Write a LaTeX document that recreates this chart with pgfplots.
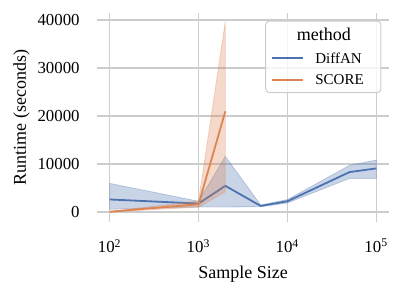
\documentclass[border=0pt]{standalone}
\usepackage{fontspec}
\setmainfont{Liberation Serif}
\usepackage{pgfplots}
\pgfplotsset{compat=1.18}
\definecolor{c1}{HTML}{4C72B0}
\definecolor{c2}{HTML}{DD8452}
\definecolor{gridc}{HTML}{CCCCCC}
\begin{document}
\begin{tikzpicture}
\begin{axis}[
  scale only axis, width=146.3pt, height=104.2pt,
  xmode=log, xmin=71.4, xmax=140000, ymin=-2020, ymax=41400,
  axis line style={draw=none}, major tick length=0, minor tick length=0,
  xtick={100,1000,10000,100000},
  xticklabels={10\textsuperscript{2},10\textsuperscript{3},10\textsuperscript{4},10\textsuperscript{5}},
  ytick={0,10000,20000,30000,40000},
  yticklabels={0,10000,20000,30000,40000},
  scaled y ticks=false,
  grid=major, grid style={gridc, line width=0.6pt},
  tick label style={font=\fontsize{8.4}{10}\selectfont},
  xticklabel style={anchor=north, inner sep=0pt, yshift=-8.6pt},
  yticklabel style={anchor=east, inner sep=0pt, xshift=-8.35pt},
  xlabel={Sample Size}, ylabel={Runtime (seconds)},
  label style={font=\fontsize{9}{11}\selectfont},
  xlabel style={at={(axis description cs:0.5,0)}, anchor=north, inner sep=0pt, yshift=-22pt},
  ylabel style={at={(axis description cs:-0.257,0.5)}, anchor=center, inner sep=0pt},
]
\addplot[c1, line width=0.9pt] coordinates {
  (100,2610) (1000,1760) (2000,5450) (5000,1260) (10000,2240) (50000,8320) (100000,9080)};
\addplot[fill=c1, fill opacity=0.3, draw=c1, draw opacity=0.3, line width=0.4pt] coordinates {
  (100,5960) (1000,2240) (2000,11590) (5000,1470) (10000,2590) (50000,9710) (100000,10830)
  (100000,7000) (50000,7000) (10000,1880) (5000,1100) (2000,1050) (1000,1050) (100,570)} -- cycle;

\addplot[c2, line width=0.9pt] coordinates {
  (100,50) (1000,1610) (2000,20980)};
\addplot[fill=c2, fill opacity=0.3, draw=c2, draw opacity=0.3, line width=0.4pt] coordinates {
  (100,120) (1000,2300) (2000,39690) (2000,4200) (1000,1000) (100,20)} -- cycle;

% legend
\draw[gridc, line width=0.5pt, fill=white, fill opacity=0.8, rounded corners=2pt]
  (axis description cs:0.5776,0.619) rectangle (axis description cs:0.9716,0.963);
\node[anchor=center, inner sep=0pt, font=\fontsize{9}{11}\selectfont]
  at (axis description cs:0.7768,0.8992) {method};
\draw[c1, line width=0.9pt] (axis description cs:0.598,0.7841) -- (axis description cs:0.706,0.7841);
\node[anchor=west, inner sep=0pt, font=\fontsize{7.5}{9}\selectfont]
  at (axis description cs:0.7460,0.7841) {DiffAN};
\draw[c2, line width=0.9pt] (axis description cs:0.598,0.680) -- (axis description cs:0.706,0.680);
\node[anchor=west, inner sep=0pt, font=\fontsize{7.5}{9}\selectfont]
  at (axis description cs:0.7460,0.680) {SCORE};
\end{axis}
\path ([shift={(-48.35pt,-37.65pt)}]current axis.south west) rectangle ([shift={(6.85pt,6.65pt)}]current axis.north east);
\end{tikzpicture}
\end{document}
